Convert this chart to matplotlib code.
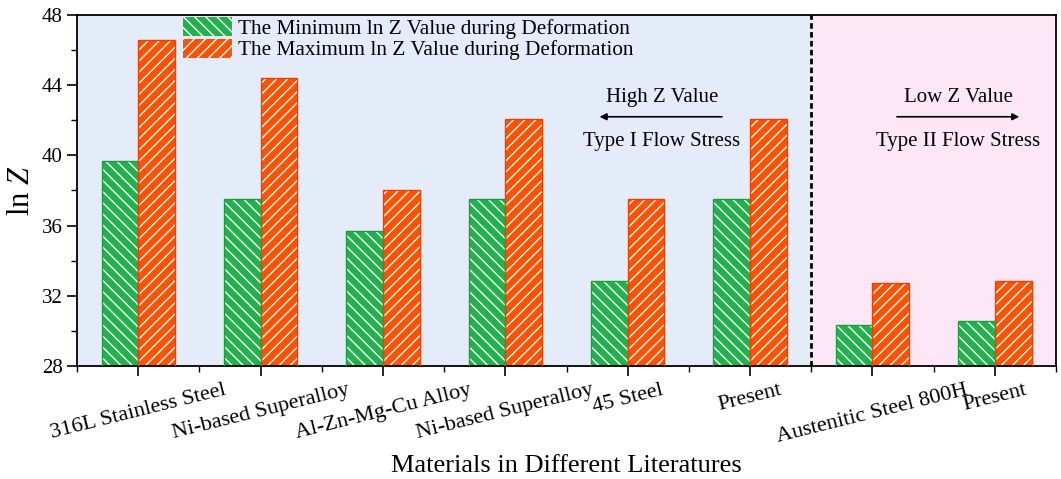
import matplotlib
matplotlib.use("Agg")
import matplotlib.pyplot as plt
from matplotlib.patches import Patch
from matplotlib.ticker import MultipleLocator
import numpy as np

plt.rcParams['font.family'] = ['Liberation Serif', 'DejaVu Serif']
plt.rcParams['hatch.linewidth'] = 1.0
plt.rcParams['mathtext.fontset'] = 'custom'
plt.rcParams['mathtext.rm'] = 'Liberation Serif'
plt.rcParams['mathtext.it'] = 'Liberation Serif:italic'

# ln Z range for each material reported in the literature
materials = ["316L Stainless Steel", "Ni-based Superalloy", "Al-Zn-Mg-Cu Alloy",
             "Ni-based Superalloy", "45 Steel", "Present",
             "Austenitic Steel 800H", "Present"]
lnz_min = [39.7, 37.5, 35.7, 37.5, 32.85, 37.5, 30.35, 30.55]
lnz_max = [46.6, 44.4, 38.0, 42.1, 37.5, 42.1, 32.7, 32.85]
yticks = [28, 32, 36, 40, 44, 48]

green = "#22b14c"
orange = "#ff5200"
green_edge = "#1a9e40"
orange_edge = "#f04000"

fig = plt.figure(figsize=(10.61, 4.79), dpi=100)
ax = fig.add_axes([0.0726, 0.236, 0.9227, 0.7327])

x = np.arange(1, len(materials) + 1)
w = 0.3

# shaded regions: type I (high Z) and type II (low Z) flow stress
ax.axvspan(0.5, 6.5, color="#e5ecf9", zorder=0, lw=0)
ax.axvspan(6.5, 8.5, color="#fde7f6", zorder=0, lw=0)

# hatched fills with white hatch lines, then coloured outlines on top
ax.bar(x - w / 2, lnz_min, width=w, bottom=0, color=green, edgecolor="white",
       hatch="\\\\\\", lw=0, zorder=2)
ax.bar(x + w / 2, lnz_max, width=w, bottom=0, color=orange, edgecolor="white",
       hatch="///", lw=0, zorder=2)
ax.bar(x - w / 2, lnz_min, width=w, fill=False, edgecolor=green_edge, lw=1.0, zorder=3)
ax.bar(x + w / 2, lnz_max, width=w, fill=False, edgecolor=orange_edge, lw=1.0, zorder=3)

ax.axvline(6.5, color="black", lw=2, linestyle=(0, (2, 1.2)), zorder=4)

ax.set_xlim(0.5, 8.5)
ax.set_ylim(28, 48)
ax.set_yticks(yticks)
ax.yaxis.set_minor_locator(MultipleLocator(2))
ax.set_xticks(x)
ax.xaxis.set_minor_locator(MultipleLocator(1, offset=0.5))
ax.set_xticklabels(materials, rotation=14, ha="center", fontsize=16)
ax.tick_params(axis="y", labelsize=15)
ax.tick_params(which="major", direction="out", length=7, width=1.2)
ax.tick_params(which="minor", direction="out", length=4, width=1.0)
for s in ax.spines.values():
    s.set_linewidth(1.3)

ax.set_ylabel(r"ln $\mathit{Z}$", fontsize=22, labelpad=4)
ax.set_xlabel("Materials in Different Literatures", fontsize=19, labelpad=6)

# annotations for the two flow stress types
ax.text(5.28, 43.3, "High Z Value", ha="center", va="center", fontsize=15)
ax.annotate("", xy=(4.77, 42.2), xytext=(5.77, 42.2),
            arrowprops=dict(arrowstyle="-|>", color="black", lw=1.2,
                            mutation_scale=10, shrinkA=0, shrinkB=0))
ax.text(5.28, 40.8, "Type I Flow Stress", ha="center", va="center", fontsize=15)

ax.text(7.70, 43.3, "Low Z Value", ha="center", va="center", fontsize=15)
ax.annotate("", xy=(8.2, 42.2), xytext=(7.2, 42.2),
            arrowprops=dict(arrowstyle="-|>", color="black", lw=1.2,
                            mutation_scale=10, shrinkA=0, shrinkB=0))
ax.text(7.70, 40.8, "Type II Flow Stress", ha="center", va="center", fontsize=15)

handles = [Patch(facecolor=green, edgecolor="white", hatch="\\\\\\", lw=0),
           Patch(facecolor=orange, edgecolor="white", hatch="///", lw=0)]
ax.legend(handles, ["The Minimum ln Z Value during Deformation",
                    "The Maximum ln Z Value during Deformation"],
          loc="upper left", bbox_to_anchor=(0.108, 0.995), frameon=False,
          fontsize=15.3, borderpad=0, borderaxespad=0, handlelength=2.3,
          handleheight=1.0, handletextpad=0.3, labelspacing=0.0)

fig.savefig("out.png", dpi=100, facecolor="white")
